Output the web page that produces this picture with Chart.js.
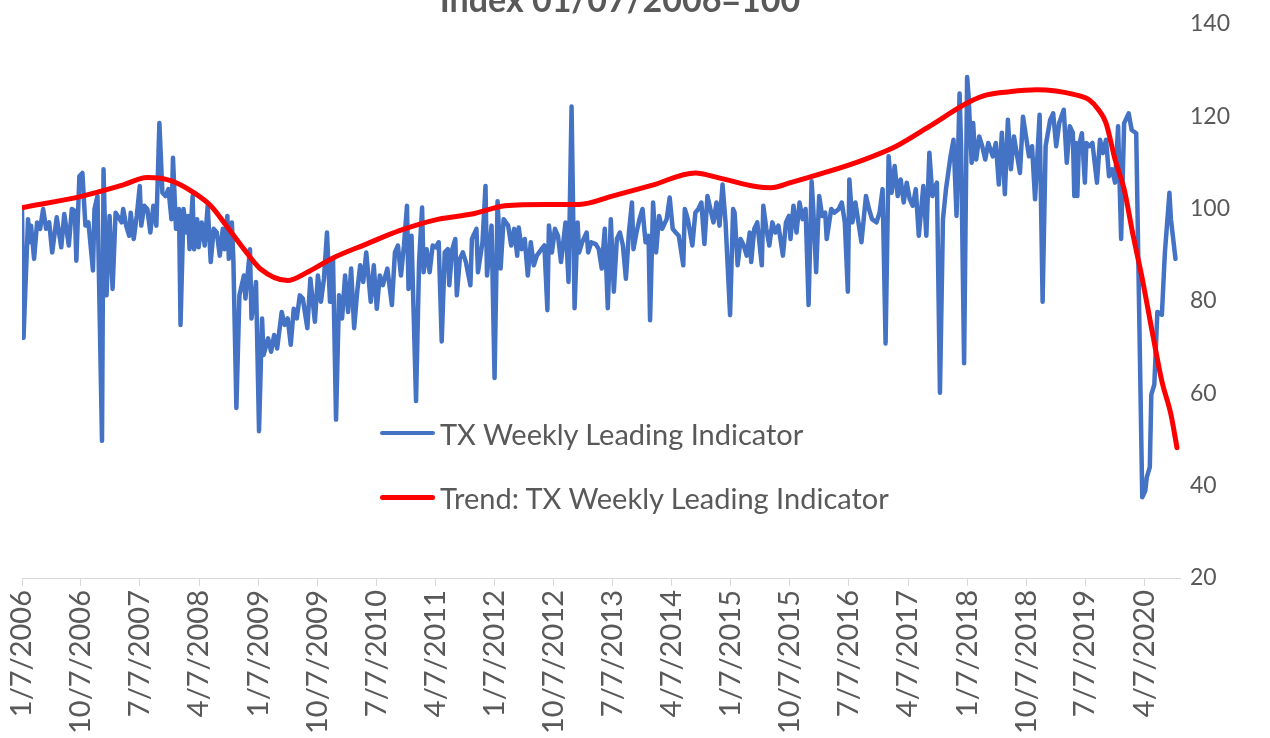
<!DOCTYPE html>
<html>
<head>
<meta charset="utf-8">
<script src="https://cdn.jsdelivr.net/npm/chart.js@4.4.0/dist/chart.umd.min.js"></script>
<style>
  body { margin: 0; background: #fff; }
  #wrap { position: relative; width: 1270px; height: 738px; overflow: hidden; }
  #chart { position: absolute; left: 0; top: 0; }
  .title { position: absolute; left: 0; top: -18px; width: 1240px; text-align: center;
           font-family: Lato, sans-serif; font-weight: bold; font-size: 34px; line-height: 34px; color: #595959; }
  .leg { position: absolute; left: 380px; height: 40px; display: flex; align-items: center;
         font-family: Lato, sans-serif; font-size: 29px; color: #595959; white-space: nowrap; }
  .leg span.line { display: inline-block; width: 55px; border-radius: 3px; margin-right: 5px; }
</style>
</head>
<body>
<div id="wrap">
  <canvas id="chart" width="1270" height="738"></canvas>
  <div class="title">Index 01/07/2006=100</div>
  <div class="leg" style="top:413px"><span class="line" style="height:4px;background:#4472C4"></span>TX Weekly Leading Indicator</div>
  <div class="leg" style="top:477px"><span class="line" style="height:5px;background:#FF0000"></span>Trend: TX Weekly Leading Indicator</div>
</div>
<script>
// x values are weeks since 1/7/2006
const tickLabels = ['1/7/2006', '10/7/2006', '7/7/2007', '4/7/2008', '1/7/2009', '10/7/2009', '7/7/2010',
    '4/7/2011', '1/7/2012', '10/7/2012', '7/7/2013', '4/7/2014', '1/7/2015', '10/7/2015', '7/7/2016',
    '4/7/2017', '1/7/2018', '10/7/2018', '7/7/2019', '4/7/2020'];

const txWeeks = [0, 1, 4, 5, 6, 8, 10, 12, 14, 16, 18, 20, 23, 26, 28, 31, 33, 35, 36, 38, 40, 42, 44, 47, 48, 50, 53, 54, 56, 58, 60, 62,
    66, 67, 69, 71, 72, 74, 76, 78, 79, 81, 83, 85, 87, 89, 91, 93, 95, 97, 99, 100, 102, 104, 105, 107, 109, 110, 111, 113, 114, 116, 117, 119, 121, 123, 125, 127, 129, 131, 133, 134,
    136, 137, 139, 140, 142, 144, 147, 148, 151, 152, 155, 157, 159, 160, 163, 165, 167, 169, 172, 174, 176, 178, 180, 182, 184, 186, 189, 191, 194, 196, 198, 200, 202, 204,
    206, 208, 210, 212, 214, 216, 218, 220, 222, 224, 226, 228, 231, 233, 235, 237, 239, 242, 245, 247, 249, 251, 253, 255, 256, 258, 261, 263, 265, 266, 268, 270, 272, 274,
    276, 278, 280, 282, 283, 285, 287, 288, 290, 292, 294, 297, 298, 301, 302, 305, 307, 308, 311, 313, 315, 317, 319, 322, 324, 326, 328, 329, 331, 333, 335, 337, 339, 341, 344, 346,
    348, 349, 351, 353, 355, 357, 360, 362, 364, 366, 368, 369, 371, 374, 375, 377, 380, 382, 384, 386, 388, 390, 392, 394, 396, 398, 400, 402, 404, 405, 407, 409, 411, 413, 415, 416,
    418, 420, 422, 424, 427, 429, 431, 433, 435, 438, 439, 441, 444, 446, 448, 450, 452, 454, 457, 458, 460, 462, 464, 466, 469, 471, 472, 474, 476, 478, 480, 482, 483, 485, 487,
    490, 491, 493, 495, 497, 499, 501, 504, 506, 508, 509, 511, 513, 515, 517, 519, 521, 523, 524, 526, 528, 530, 532, 533, 536, 538, 541, 543, 545, 547, 548, 550, 552, 554, 556,
    559, 561, 563, 566, 568, 570, 572, 574, 576, 578, 580, 582, 584, 586, 588, 590, 592, 594, 597, 599, 601, 603, 605, 606, 608, 610, 612, 615, 617, 619, 621, 622, 624, 626, 627,
    629, 630, 631, 632, 634, 636, 638, 640, 643, 645, 647, 649, 651, 653, 655, 657, 661, 663, 665, 667, 669, 671, 674, 676, 678, 681, 683, 685, 687, 690, 692, 694, 696, 697,
    698, 699, 700, 702, 704, 705, 707, 709, 712, 714, 716, 718, 720, 722, 724, 726, 728, 730, 733, 735, 738, 742, 744, 745, 747, 748, 750, 752, 755, 757, 760, 761, 764];

const txValues = [100, 72, 97.7, 92.7, 96.3, 89.1, 97, 95.6, 99.9, 95.6, 97, 90.5, 98.1, 91.6, 98.8, 92, 99.9, 99.5, 88.7, 107, 107.7, 96.3, 97, 86.6, 99.9, 102.7, 49.7, 108.5, 81.2, 98.4, 82.6, 99.1,
    97, 99.9, 96.3, 94.1, 99.1, 93.4, 98.4, 104.9, 96.3, 100.6, 99.9, 94.8, 100.6, 96.3, 118.5, 103.4, 102.7, 104.2, 97.7, 111, 95.6, 99.9, 74.8, 99.9, 94.8, 98.4, 91.2, 102.7, 91.2, 97.7, 91.6, 97, 92, 100.6, 88.4, 95.6, 94.8, 89.8, 95.6, 91.2,
    98.4, 89.1, 97, 89, 56.8, 81.2, 85.5, 80.5, 91.2, 76.2, 84.1, 51.8, 76.2, 68.3, 71.9, 69, 72.6, 69.7, 77.6, 74.8, 76.2, 70.5, 78.3, 76.2, 81.2, 80.5, 74.1, 84.8, 75.5, 85.5, 79.8, 84.8, 94.8, 79.8,
    89.1, 54.3, 81.2, 76.2, 85.5, 77.6, 87, 74.1, 81.9, 87.7, 84.1, 90.5, 79.8, 87.7, 78.3, 85.5, 83.4, 87, 79.1, 90.5, 92, 85.5, 92, 100.6, 82.6, 94.1, 58.3, 88.4, 100.2, 86.2, 91.2, 86.2, 92, 91.6,
    92.7, 71.2, 90.5, 91.2, 83.4, 91.2, 93.4, 81.2, 89.1, 90.5, 88.4, 83.4, 93.4, 95.6, 86.2, 92.7, 104.9, 85.5, 96.3, 63.3, 101.6, 87, 97.7, 96.3, 92, 95.6, 89.8, 95.9, 91.2, 93.4, 85.5, 92.7, 87.7, 89.8, 91.2, 92,
    78, 96.3, 90.5, 95.6, 94.1, 88.4, 97, 84.1, 122.1, 78.4, 97, 90.5, 92.7, 94.8, 90.5, 92.7, 92.3, 91.2, 87, 95.6, 78.4, 97.7, 82, 93.4, 94.8, 92, 84.8, 94.8, 101.3, 91.2, 94.8, 97.7, 99.9, 92.7, 94.1, 75.8,
    101.3, 90.5, 98.4, 95.6, 97.7, 102.4, 95.6, 94.8, 94.1, 87.7, 99.9, 97.7, 92, 99.1, 99.9, 101.3, 92.3, 102.7, 98.4, 97, 101.3, 96.3, 105.2, 97, 76.9, 99.9, 99.1, 87.7, 93.4, 92, 89.8, 94.8, 88.4, 95.6, 97,
    87.7, 100.6, 95.6, 92, 97, 94.8, 96.3, 89.8, 97, 98.4, 93.4, 100.6, 94.8, 101.3, 97.7, 99.9, 79.1, 105.9, 100.6, 86.2, 102.7, 98.4, 99.1, 93.4, 99.9, 99.1, 99.9, 101.3, 97, 82, 106.3, 97, 101.3, 97, 92.7,
    102.7, 99.9, 97.7, 97, 99.1, 104.2, 70.8, 111.3, 103.4, 109.2, 102.7, 106.3, 101.3, 105.6, 102, 100.6, 104.2, 94.1, 104.9, 94.1, 112.1, 102.7, 104.9, 105.6, 60.1, 97.7, 104.2, 111.3, 114.9, 98.4, 124.9, 113.5, 66.5, 128.5, 124.2,
    109.9, 118.5, 112.7, 110.6, 115.6, 113.5, 110.6, 114.2, 111.3, 114.2, 105.2, 116.4, 103.1, 119.2, 108.5, 115.6, 107.7, 119.9, 115.6, 111.3, 113.5, 102, 120.3, 79.8, 113.5, 119.2, 120.6, 113.5, 118.5, 121.4, 109.9, 117.8, 116.4, 102.7,
    114.2, 102.7, 113.5, 116.3, 105.6, 114.2, 113.5, 114.2, 105.6, 114.9, 112, 114.9, 107, 108.5, 105.6, 117.8, 93.4, 118.5, 120.6, 117, 116.3, 37.5, 38.9, 41.8, 44, 59.7, 61.9, 77.6, 77, 90.5, 103.4, 97.7, 89.1];

const trendWeeks = [0, 40, 66, 83, 99, 114, 125, 136, 147, 158, 176, 189, 206, 228, 250, 276, 298, 320, 347, 369, 391, 417, 446, 461,
    487, 496, 509, 531, 557, 579, 601, 627, 639, 654, 672, 698, 707, 713, 718, 724, 730, 736, 742, 749, 755, 761, 765];
const trendValues = [100.2, 102.7, 105, 106.7, 106, 103.4, 100.6, 96, 91.2, 86.9, 84.4, 86.2, 89.3, 92.3, 95.2, 97.7, 98.8, 100.6, 100.9, 100.9, 102.7, 105, 107.7, 106.7,
    104.7, 104.5, 105.6, 107.7, 110.5, 113.5, 117.8, 123, 124.6, 125.3, 125.7, 124.6, 123.5, 121.4, 118.5, 110.6, 104.2, 94.1, 84.8, 72.6, 62.6, 55.4, 48.2];

const fontFamily = 'Lato, sans-serif';
const textColor = '#595959';

const startDay = Date.UTC(2006, 0, 7);
function weekOf(label) {
    const [m, d, y] = label.split('/').map(Number);
    return (Date.UTC(y, m - 1, d) - startDay) / (7 * 86400000);
}

new Chart(document.getElementById('chart'), {
    type: 'line',
    data: {
        datasets: [{
            label: 'TX Weekly Leading Indicator',
            data: txWeeks.map((w, i) => ({ x: w, y: txValues[i] })),
            borderColor: '#4472C4',
            borderWidth: 4.5,
            pointRadius: 0,
            tension: 0,
            borderJoinStyle: 'round',
            borderCapStyle: 'round',
            order: 1
        }, {
            label: 'Trend: TX Weekly Leading Indicator',
            data: trendWeeks.map((w, i) => ({ x: w, y: trendValues[i] })),
            borderColor: '#FF0000',
            borderWidth: 5,
            pointRadius: 0,
            cubicInterpolationMode: 'monotone',
            borderCapStyle: 'round',
            order: 0
        }]
    },
    options: {
        responsive: false,
        animation: false,
        layout: { padding: { left: 22, right: 20, top: 20, bottom: 0 } },
        plugins: {
            legend: { display: false },
            tooltip: { enabled: false },
            title: { display: false }
        },
        scales: {
            x: {
                type: 'linear',
                min: 0,
                max: 767,
                afterBuildTicks: axis => {
                    axis.ticks = tickLabels.map(l => ({ value: weekOf(l) }));
                },
                afterFit: axis => { axis.height = 160; },
                ticks: {
                    autoSkip: false,
                    minRotation: 90,
                    maxRotation: 90,
                    color: textColor,
                    font: { family: fontFamily, size: 29 },
                    padding: 4,
                    callback: (v, i) => tickLabels[i]
                },
                grid: { display: true, drawOnChartArea: false, drawTicks: true, tickLength: 8, color: '#d9d9d9' },
                border: { display: true, color: '#d9d9d9' }
            },
            y: {
                position: 'right',
                min: 20,
                max: 140,
                afterFit: axis => { axis.width = 70; },
                ticks: { stepSize: 20, color: textColor, font: { family: fontFamily, size: 23 }, padding: 10 },
                grid: { display: false, drawTicks: false },
                border: { display: false }
            }
        }
    }
});
</script>
</body>
</html>
